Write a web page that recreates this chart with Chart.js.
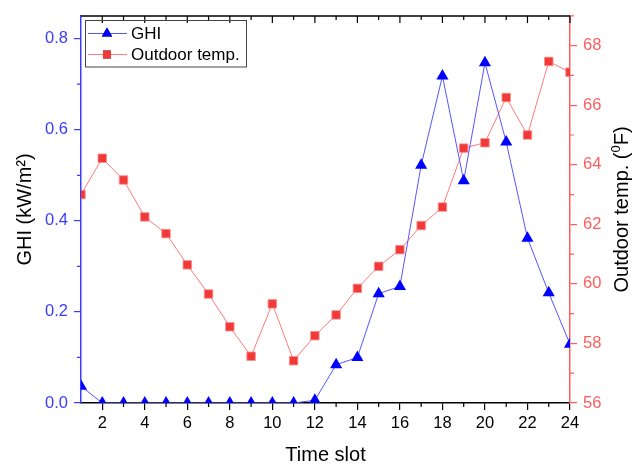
<!DOCTYPE html>
<html><head><meta charset="utf-8">
<script src="https://cdn.jsdelivr.net/npm/chart.js@4"></script>
<style>html,body{margin:0;padding:0;background:#fff;overflow:hidden}</style>
</head><body>
<canvas id="c" width="632" height="471"></canvas>
<script>
// ---- data ----
const timeSlots = [1,2,3,4,5,6,7,8,9,10,11,12,13,14,15,16,17,18,19,20,21,22,23,24];
const ghiValues = [0.037,0,0,0,0,0,0,0,0,0,0,0.006,0.084,0.100,0.240,0.256,0.522,0.718,0.488,0.747,0.573,0.362,0.242,0.129];
const tempValues = [63.0,64.22,63.49,62.25,61.69,60.64,59.66,58.56,57.57,59.33,57.42,58.26,58.96,59.85,60.59,61.15,61.96,62.58,64.56,64.74,66.26,65.0,67.47,67.11];
const xTickValues = [2,4,6,8,10,12,14,16,18,20,22,24];
const ghiTickValues = [0,0.2,0.4,0.6,0.8];
const tempTickValues = [56,58,60,62,64,66,68];
const xMinorValues = [3,5,7,9,11,13,15,17,19,21,23];
const ghiMinorValues = [0.1,0.3,0.5,0.7];
const tempMinorValues = [57,59,61,63,65,67,69];
const seriesNames = ['GHI','Outdoor temp.'];

const FONT = "'Liberation Sans', Arial, sans-serif";
const BLUE = '#0000ff', BLUE_LINE = '#5555ff', BLUE_AXIS = '#3b3bff';
const RED = '#f03a3a', RED_LINE = '#ff7a7a', RED_AXIS = '#ff5c5c';

Chart.defaults.font.family = FONT;

const extras = {
  id: 'extras',
  afterDraw(chart) {
    const ctx = chart.ctx, a = chart.chartArea;
    const xs = chart.scales.x, ys = chart.scales.y, y2 = chart.scales.y2;
    ctx.save();
    // top frame line
    ctx.strokeStyle = '#000'; ctx.lineWidth = 1.5;
    ctx.beginPath(); ctx.moveTo(a.left, a.top); ctx.lineTo(a.right, a.top); ctx.stroke();
    ctx.lineWidth = 1.2;
    // top ticks inward
    ctx.beginPath();
    xTickValues.forEach(v => { const p = xs.getPixelForValue(v); ctx.moveTo(p, a.top); ctx.lineTo(p, a.top + 7); });
    xMinorValues.forEach(v => { const p = xs.getPixelForValue(v); ctx.moveTo(p, a.top); ctx.lineTo(p, a.top + 4); });
    // bottom minor ticks
    xMinorValues.forEach(v => { const p = xs.getPixelForValue(v); ctx.moveTo(p, a.bottom); ctx.lineTo(p, a.bottom + 4); });
    ctx.stroke();
    // left minor
    ctx.strokeStyle = BLUE_AXIS;
    ctx.beginPath();
    ghiMinorValues.forEach(v => { const p = ys.getPixelForValue(v); ctx.moveTo(a.left, p); ctx.lineTo(a.left - 4, p); });
    ctx.stroke();
    // right minor
    ctx.strokeStyle = RED_AXIS;
    ctx.beginPath();
    tempMinorValues.forEach(v => { const p = y2.getPixelForValue(v); ctx.moveTo(a.right, p); ctx.lineTo(a.right + 4, p); });
    ctx.stroke();

    // legend
    ctx.strokeStyle = '#444'; ctx.lineWidth = 1;
    ctx.strokeRect(85.5, 20.5, 161, 46.5);
    const rows = [
      {y: 33.5, line: BLUE_LINE, fill: BLUE, style: 'triangle', r: 6},
      {y: 54.5, line: RED_LINE, fill: RED, style: 'rect', r: 5.6}
    ];
    rows.forEach((row, i) => {
      ctx.strokeStyle = row.line; ctx.lineWidth = 1;
      ctx.beginPath(); ctx.moveTo(88, row.y); ctx.lineTo(127, row.y); ctx.stroke();
      Chart.helpers.drawPoint(ctx, {pointStyle: row.style, radius: row.r, borderWidth: 0}, 107, row.y);
      ctx.fillStyle = row.fill;
      ctx.beginPath();
      if (row.style === 'triangle') {
        ctx.moveTo(107, row.y - 6); ctx.lineTo(112.2, row.y + 3); ctx.lineTo(101.8, row.y + 3); ctx.closePath();
      } else {
        ctx.rect(103, row.y - 4, 8, 8);
      }
      ctx.fill();
      ctx.fillStyle = '#000';
      ctx.font = '17px ' + FONT;
      ctx.textBaseline = 'middle'; ctx.textAlign = 'left';
      ctx.fillText(seriesNames[i], 131, row.y + 1);
    });

    // right axis title (reads bottom to top)
    ctx.translate(622, (a.top + a.bottom) / 2);
    ctx.rotate(-Math.PI / 2);
    const big = '20px ' + FONT, small = '13px ' + FONT;
    const p1 = 'Outdoor temp. (', p2 = '0', p3 = 'F)';
    ctx.font = big; const w1 = ctx.measureText(p1).width, w3 = ctx.measureText(p3).width;
    ctx.font = small; const w2 = ctx.measureText(p2).width;
    let x0 = -(w1 + w2 + w3) / 2;
    ctx.fillStyle = '#000'; ctx.textBaseline = 'middle'; ctx.textAlign = 'left';
    ctx.font = big; ctx.fillText(p1, x0, 0);
    ctx.font = small; ctx.fillText(p2, x0 + w1, -6);
    ctx.font = big; ctx.fillText(p3, x0 + w1 + w2, 0);
    ctx.restore();
  }
};

new Chart(document.getElementById('c'), {
  type: 'line',
  data: {
    datasets: [
      {
        label: seriesNames[0],
        data: timeSlots.map((t, i) => ({x: t, y: ghiValues[i]})),
        yAxisID: 'y',
        borderColor: BLUE_LINE, borderWidth: 1,
        pointStyle: 'triangle', pointRadius: 7, pointHoverRadius: 7,
        pointBackgroundColor: BLUE, pointBorderColor: BLUE, pointBorderWidth: 0,
        tension: 0, clip: 0
      },
      {
        label: seriesNames[1],
        data: timeSlots.map((t, i) => ({x: t, y: tempValues[i]})),
        yAxisID: 'y2',
        borderColor: RED_LINE, borderWidth: 1,
        pointStyle: 'rect', pointRadius: 6, pointHoverRadius: 6,
        pointBackgroundColor: RED, pointBorderColor: '#ff8a8a', pointBorderWidth: 0.8,
        tension: 0, clip: 0
      }
    ]
  },
  options: {
    responsive: false, animation: false, devicePixelRatio: 1,
    layout: {padding: {top: 9, left: 0, right: 0, bottom: 0}},
    plugins: {legend: {display: false}, tooltip: {enabled: false}},
    scales: {
      x: {
        type: 'linear', position: 'bottom', min: 1, max: 24,
        afterBuildTicks: s => { s.ticks = xTickValues.map(v => ({value: v})); },
        afterFit: s => { s.height = 68; },
        grid: {display: true, drawOnChartArea: false, drawTicks: true, tickLength: 7, color: '#000', lineWidth: 1.2},
        border: {display: true, color: '#000', width: 1.5},
        ticks: {color: '#000', font: {size: 16.5}, padding: 4, maxRotation: 0, autoSkip: false, callback: v => String(v)},
        title: {display: true, text: 'Time slot', color: '#000', font: {size: 20}, padding: {top: 0, bottom: 4}}
      },
      y: {
        type: 'linear', position: 'left', min: 0, max: 0.85,
        afterBuildTicks: s => { s.ticks = ghiTickValues.map(v => ({value: v})); },
        afterFit: s => { s.width = 81; },
        grid: {display: true, drawOnChartArea: false, drawTicks: true, tickLength: 7, color: BLUE_AXIS, lineWidth: 1.2},
        border: {display: true, color: BLUE_AXIS, width: 1.5},
        ticks: {color: BLUE_AXIS, font: {size: 16.5}, padding: 6, autoSkip: false, callback: v => Number(v).toFixed(1)},
        title: {display: true, text: 'GHI (kW/m²)', color: '#000', font: {size: 20}, padding: {top: 13, bottom: 0}}
      },
      y2: {
        type: 'linear', position: 'right', min: 56, max: 69,
        afterBuildTicks: s => { s.ticks = tempTickValues.map(v => ({value: v})); },
        afterFit: s => { s.width = 62; },
        grid: {display: true, drawOnChartArea: false, drawTicks: true, tickLength: 7, color: RED_AXIS, lineWidth: 1.2},
        border: {display: true, color: RED_AXIS, width: 1.5},
        ticks: {color: RED_AXIS, font: {size: 16.5}, padding: 6, autoSkip: false, callback: v => String(v)},
        title: {display: false}
      }
    }
  },
  plugins: [extras]
});
</script>
</body></html>
